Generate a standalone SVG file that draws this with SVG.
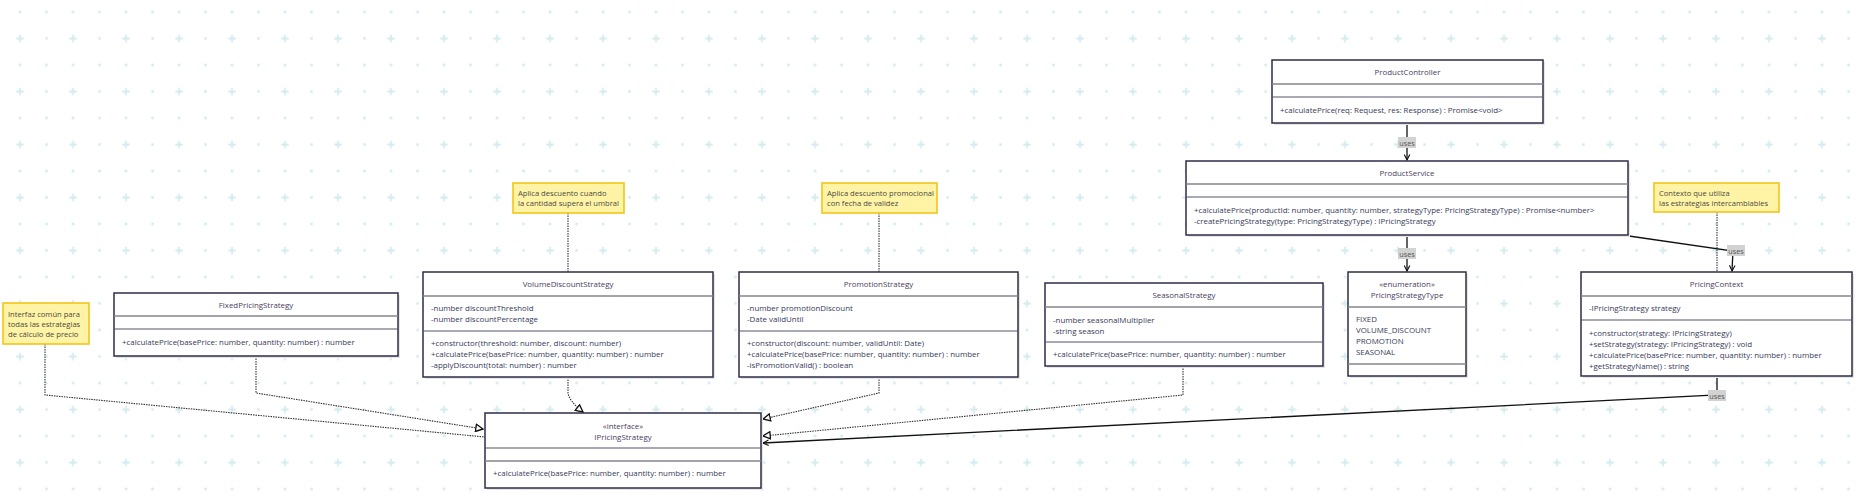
<svg xmlns="http://www.w3.org/2000/svg" width="1864" height="497" viewBox="0 0 1864 497">
<style>
text{font-family:"Open Sans","Liberation Sans",sans-serif;font-size:7.9px;fill:#353a58;dominant-baseline:central}
.t{text-anchor:middle;fill:#4a4060}
.box{fill:#fff;stroke:#2e2c48;stroke-width:1.5}
.sh{fill:#e6e6e6}
.s1{stroke:#85848f;stroke-width:1.6}
.s2{stroke:#55546a;stroke-width:1.2}
.note{fill:#fff3a6;stroke:#f3c51a;stroke-width:1.6}
.nt{fill:#4a4a40;font-size:7.6px}
.dot{fill:none;stroke:#333;stroke-width:1.1;stroke-dasharray:1.5 1}
.sol{fill:none;stroke:#111;stroke-width:1.3}
.lbl{fill:#d2d2d2}
.lt{text-anchor:middle;fill:#555;font-size:7.2px}
</style>
<defs>
<pattern id="grid" patternUnits="userSpaceOnUse" x="6.75" y="-1.25" width="53" height="53">
<circle cx="13.25" cy="13.25" r="1.4" fill="#d3ebee"/>
<circle cx="39.75" cy="13.25" r="1.4" fill="#d3ebee"/>
<circle cx="39.75" cy="39.75" r="1.4" fill="#d3ebee"/>
<path d="M9.5,39.75h7.5M13.25,36v7.5" stroke="#d3ebee" stroke-width="1.8"/>
</pattern>
<marker id="tri" viewBox="0 0 10 10" refX="9" refY="5" markerWidth="9" markerHeight="9" markerUnits="userSpaceOnUse" orient="auto">
<path d="M1,1 L9,5 L1,9 z" fill="#fff" stroke="#111" stroke-width="1.5"/>
</marker>
<marker id="vee" viewBox="0 0 10 10" refX="9" refY="5" markerWidth="7" markerHeight="7" markerUnits="userSpaceOnUse" orient="auto">
<path d="M1,1 L9,5 L1,9" fill="none" stroke="#111" stroke-width="1.6"/>
</marker>
</defs>
<rect width="1864" height="497" fill="#fff"/>
<rect width="1864" height="497" fill="url(#grid)"/>

<g id="connectors">
<path class="sol" d="M1407,123 L1407,160" marker-end="url(#vee)"/>
<path class="sol" d="M1407,235 L1407,271" marker-end="url(#vee)"/>
<path class="sol" d="M1622,235 L1733,251 L1732,271" marker-end="url(#vee)"/>
<path class="sol" d="M1717,376 L1717,395 L763,443" marker-end="url(#vee)"/>
<path class="dot" d="M256,356 L256,393 L483,429" marker-end="url(#tri)"/>
<path class="dot" d="M568,377 L568,393 Q569,401 583,412" marker-end="url(#tri)"/>
<path class="dot" d="M879,377 L879,393 L763,419" marker-end="url(#tri)"/>
<path class="dot" d="M1183,366 L1183,395 L763,436" marker-end="url(#tri)"/>
<path class="dot" d="M45,344 L45,395 L485,437"/>
<path class="dot" d="M568,213 L568,272"/>
<path class="dot" d="M879,213 L879,272"/>
<path class="dot" d="M1717,212 L1717,272"/>
<rect class="lbl" x="1398" y="137" width="18" height="11"/><text class="lt" x="1407" y="142.5">uses</text>
<rect class="lbl" x="1398" y="248" width="18" height="11"/><text class="lt" x="1407" y="253.5">uses</text>
<rect class="lbl" x="1727" y="245" width="18" height="11"/><text class="lt" x="1736" y="250.5">uses</text>
<rect class="lbl" x="1708" y="390" width="18" height="11"/><text class="lt" x="1717" y="395.5">uses</text>
</g>

<g id="ProductController">
<rect class="sh" x="1274" y="62" width="271" height="63"/>
<rect class="box" x="1272" y="60" width="271" height="63"/>
<line class="s1" x1="1272" y1="84" x2="1543" y2="84"/>
<line class="s2" x1="1272" y1="97" x2="1543" y2="97"/>
<text class="t" x="1407.5" y="72">ProductController</text>
<text x="1280" y="110">+calculatePrice(req: Request, res: Response) : Promise&lt;void&gt;</text>
</g>

<g id="ProductService">
<rect class="sh" x="1188" y="163" width="442" height="74"/>
<rect class="box" x="1186" y="161" width="442" height="74"/>
<line class="s1" x1="1186" y1="184" x2="1628" y2="184"/>
<line class="s2" x1="1186" y1="197" x2="1628" y2="197"/>
<text class="t" x="1407" y="172.5">ProductService</text>
<text x="1194" y="210">+calculatePrice(productId: number, quantity: number, strategyType: PricingStrategyType) : Promise&lt;number&gt;</text>
<text x="1194" y="221">-createPricingStrategy(type: PricingStrategyType) : IPricingStrategy</text>
</g>

<g id="PricingStrategyType">
<rect class="sh" x="1350" y="274" width="118" height="104"/>
<rect class="box" x="1348" y="272" width="118" height="104"/>
<line class="s1" x1="1348" y1="307" x2="1466" y2="307"/>
<line class="s1" x1="1348" y1="364" x2="1466" y2="364"/>
<text class="t" x="1407" y="284">«enumeration»</text>
<text class="t" x="1407" y="295">PricingStrategyType</text>
<text x="1356" y="319">FIXED</text>
<text x="1356" y="330">VOLUME_DISCOUNT</text>
<text x="1356" y="341">PROMOTION</text>
<text x="1356" y="352">SEASONAL</text>
</g>

<g id="PricingContext">
<rect class="sh" x="1583" y="274" width="271" height="104"/>
<rect class="box" x="1581" y="272" width="271" height="104"/>
<line class="s1" x1="1581" y1="296" x2="1852" y2="296"/>
<line class="s2" x1="1581" y1="320" x2="1852" y2="320"/>
<text class="t" x="1716.5" y="284">PricingContext</text>
<text x="1589" y="308">-IPricingStrategy strategy</text>
<text x="1589" y="333">+constructor(strategy: IPricingStrategy)</text>
<text x="1589" y="344">+setStrategy(strategy: IPricingStrategy) : void</text>
<text x="1589" y="355">+calculatePrice(basePrice: number, quantity: number) : number</text>
<text x="1589" y="366">+getStrategyName() : string</text>
</g>

<g id="FixedPricingStrategy">
<rect class="sh" x="116" y="295" width="284" height="63"/>
<rect class="box" x="114" y="293" width="284" height="63"/>
<line class="s1" x1="114" y1="316" x2="398" y2="316"/>
<line class="s2" x1="114" y1="329" x2="398" y2="329"/>
<text class="t" x="256" y="305">FixedPricingStrategy</text>
<text x="122" y="342">+calculatePrice(basePrice: number, quantity: number) : number</text>
</g>

<g id="VolumeDiscountStrategy">
<rect class="sh" x="425" y="274" width="290" height="105"/>
<rect class="box" x="423" y="272" width="290" height="105"/>
<line class="s1" x1="423" y1="296" x2="713" y2="296"/>
<line class="s2" x1="423" y1="331" x2="713" y2="331"/>
<text class="t" x="568" y="284">VolumeDiscountStrategy</text>
<text x="431" y="308">-number discountThreshold</text>
<text x="431" y="319">-number discountPercentage</text>
<text x="431" y="343">+constructor(threshold: number, discount: number)</text>
<text x="431" y="354">+calculatePrice(basePrice: number, quantity: number) : number</text>
<text x="431" y="365">-applyDiscount(total: number) : number</text>
</g>

<g id="PromotionStrategy">
<rect class="sh" x="741" y="274" width="279" height="105"/>
<rect class="box" x="739" y="272" width="279" height="105"/>
<line class="s1" x1="739" y1="296" x2="1018" y2="296"/>
<line class="s2" x1="739" y1="331" x2="1018" y2="331"/>
<text class="t" x="878.5" y="284">PromotionStrategy</text>
<text x="747" y="308">-number promotionDiscount</text>
<text x="747" y="319">-Date validUntil</text>
<text x="747" y="343">+constructor(discount: number, validUntil: Date)</text>
<text x="747" y="354">+calculatePrice(basePrice: number, quantity: number) : number</text>
<text x="747" y="365">-isPromotionValid() : boolean</text>
</g>

<g id="SeasonalStrategy">
<rect class="sh" x="1047" y="285" width="278" height="83"/>
<rect class="box" x="1045" y="283" width="278" height="83"/>
<line class="s1" x1="1045" y1="307" x2="1323" y2="307"/>
<line class="s2" x1="1045" y1="342" x2="1323" y2="342"/>
<text class="t" x="1184" y="295">SeasonalStrategy</text>
<text x="1053" y="320">-number seasonalMultiplier</text>
<text x="1053" y="331">-string season</text>
<text x="1053" y="354">+calculatePrice(basePrice: number, quantity: number) : number</text>
</g>

<g id="IPricingStrategy">
<rect class="sh" x="487" y="415" width="276" height="75"/>
<rect class="box" x="485" y="413" width="276" height="75"/>
<line class="s2" x1="485" y1="448" x2="761" y2="448"/>
<line class="s1" x1="485" y1="461" x2="761" y2="461"/>
<text class="t" x="623" y="426">«interface»</text>
<text class="t" x="623" y="437">IPricingStrategy</text>
<text x="493" y="473">+calculatePrice(basePrice: number, quantity: number) : number</text>
</g>

<g id="note-interfaz">
<rect class="note" x="3" y="303" width="86" height="41"/>
<text class="nt" x="8" y="314">Interfaz común para</text>
<text class="nt" x="8" y="324">todas las estrategias</text>
<text class="nt" x="8" y="334">de cálculo de precio</text>
</g>
<g id="note-volume">
<rect class="note" x="513" y="183" width="111" height="30"/>
<text class="nt" x="518" y="193">Aplica descuento cuando</text>
<text class="nt" x="518" y="203">la cantidad supera el umbral</text>
</g>
<g id="note-promotion">
<rect class="note" x="822" y="183" width="115" height="30"/>
<text class="nt" x="827" y="193">Aplica descuento promocional</text>
<text class="nt" x="827" y="203">con fecha de validez</text>
</g>
<g id="note-contexto">
<rect class="note" x="1654" y="183" width="125" height="29"/>
<text class="nt" x="1659" y="193">Contexto que utiliza</text>
<text class="nt" x="1659" y="203">las estrategias intercambiables</text>
</g>
</svg>
